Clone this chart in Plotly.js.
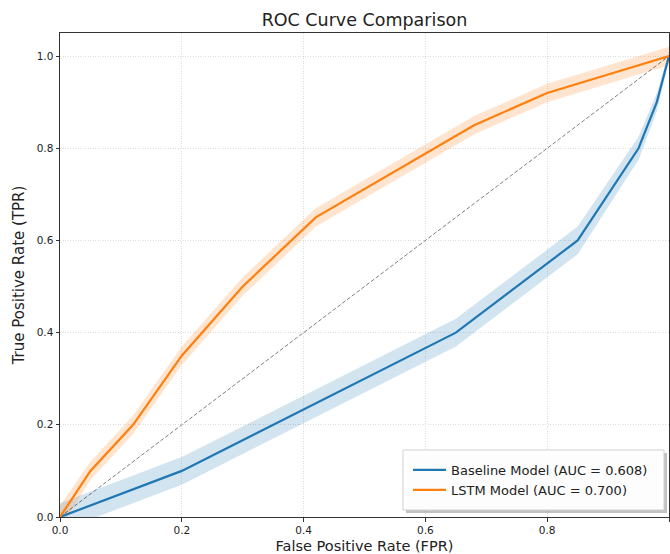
<!DOCTYPE html>
<html>
<head>
<meta charset="utf-8">
<script src="https://cdn.plot.ly/plotly-3.0.1.min.js"></script>
<style>html,body{margin:0;padding:0;background:#fff;}#chart{width:670px;height:554px;}</style>
</head>
<body>
<div id="chart"></div>
<script>
// ---- data ----
const baselineFpr = [0, 0.2, 0.65, 0.85, 0.95, 0.98, 1.0];
const baselineTpr = [0, 0.1, 0.4, 0.6, 0.8, 0.9, 1.0];
const baselineStd = [0.03, 0.03, 0.03, 0.03, 0.025, 0.02, 0.01];

const lstmFpr = [0, 0.05, 0.12, 0.2, 0.3, 0.42, 0.68, 0.8, 0.9, 1.0];
const lstmTpr = [0, 0.1, 0.2, 0.35, 0.5, 0.65, 0.85, 0.92, 0.96, 1.0];
const lstmStd = [0.025, 0.02, 0.02, 0.02, 0.02, 0.02, 0.02, 0.02, 0.02, 0.02];

const chanceX = [0, 1];
const chanceY = [0, 1];

const seriesNames = ["Baseline Model (AUC = 0.608)", "LSTM Model (AUC = 0.700)"];
const tickVals = [0, 0.2, 0.4, 0.6, 0.8, 1.0];
const tickText = ["0.0", "0.2", "0.4", "0.6", "0.8", "1.0"];

const blue = "#1f77b4", orange = "#ff7f0e";
const font = "DejaVu Sans, Liberation Sans, sans-serif";

function band(x, y, s, fill) {
  const lo = y.map((v, i) => v - s[i]);
  const hi = y.map((v, i) => v + s[i]);
  return [
    {x: x, y: lo, mode: "lines", line: {width: 0}, showlegend: false, hoverinfo: "skip"},
    {x: x, y: hi, mode: "lines", line: {width: 0}, fill: "tonexty", fillcolor: fill, showlegend: false, hoverinfo: "skip"}
  ];
}

const traces = [
  ...band(baselineFpr, baselineTpr, baselineStd, "rgba(31,119,180,0.2)"),
  ...band(lstmFpr, lstmTpr, lstmStd, "rgba(255,127,14,0.2)"),
  {x: chanceX, y: chanceY, mode: "lines", line: {color: "rgba(0,0,0,0.5)", width: 1, dash: "4px,2px"}, showlegend: false, hoverinfo: "skip"},
  {x: baselineFpr, y: baselineTpr, mode: "lines", name: seriesNames[0], line: {color: blue, width: 2.2}},
  {x: lstmFpr, y: lstmTpr, mode: "lines", name: seriesNames[1], line: {color: orange, width: 2.2}}
];

const axisCommon = {
  showline: true, mirror: true, linecolor: "#333", linewidth: 1,
  ticks: "outside", ticklen: 3.5, tickwidth: 1, tickcolor: "#333",
  tickvals: tickVals, ticktext: tickText,
  tickfont: {family: font, size: 10.5, color: "#222"},
  showgrid: true, gridcolor: "rgba(170,170,170,0.5)", gridwidth: 0.8, griddash: "1px,1.5px",
  zeroline: false
};

// legend frame (matplotlib-style box with shadow), in paper fractions of the plot area
const lgX0 = (403 - 60) / 609, lgX1 = (664 - 60) / 609;
const lgY0 = (517 - 510) / 484, lgY1 = (517 - 450) / 484;
const dx = 3 / 609, dy = 3 / 484;

const layout = {
  width: 670, height: 554,
  margin: {l: 60, r: 1, t: 33, b: 37},
  paper_bgcolor: "#fff", plot_bgcolor: "#fff",
  title: {text: "ROC Curve Comparison", font: {family: font, size: 17.5, color: "#222"},
          x: 0.544, xanchor: "center", y: 0.964, yanchor: "middle", yref: "container"},
  xaxis: Object.assign({}, axisCommon, {range: [0, 1],
    title: {text: "False Positive Rate (FPR)", font: {family: font, size: 14.5, color: "#222"}, standoff: 6}}),
  yaxis: Object.assign({}, axisCommon, {range: [0, 1.05],
    title: {text: "True Positive Rate (TPR)", font: {family: font, size: 15, color: "#222"}, standoff: 8}}),
  shapes: [
    {type: "rect", xref: "paper", yref: "paper", x0: lgX0 + dx, x1: lgX1 + dx, y0: lgY0 - dy, y1: lgY1 - dy,
     fillcolor: "rgba(120,120,120,0.45)", line: {width: 0}, layer: "above"},
    {type: "rect", xref: "paper", yref: "paper", x0: lgX0, x1: lgX1, y0: lgY0, y1: lgY1,
     fillcolor: "rgba(255,255,255,0.97)", line: {color: "#d0d0d0", width: 1}, layer: "above"}
  ],
  legend: {x: (408 - 60) / 609, xanchor: "left", y: (517 - 455) / 484, yanchor: "top",
           traceorder: "normal", itemwidth: 33,
           bgcolor: "rgba(0,0,0,0)", borderwidth: 0,
           font: {family: font, size: 13, color: "#222"}},
  showlegend: true
};

Plotly.newPlot("chart", traces, layout, {staticPlot: true, displayModeBar: false});
</script>
</body>
</html>
